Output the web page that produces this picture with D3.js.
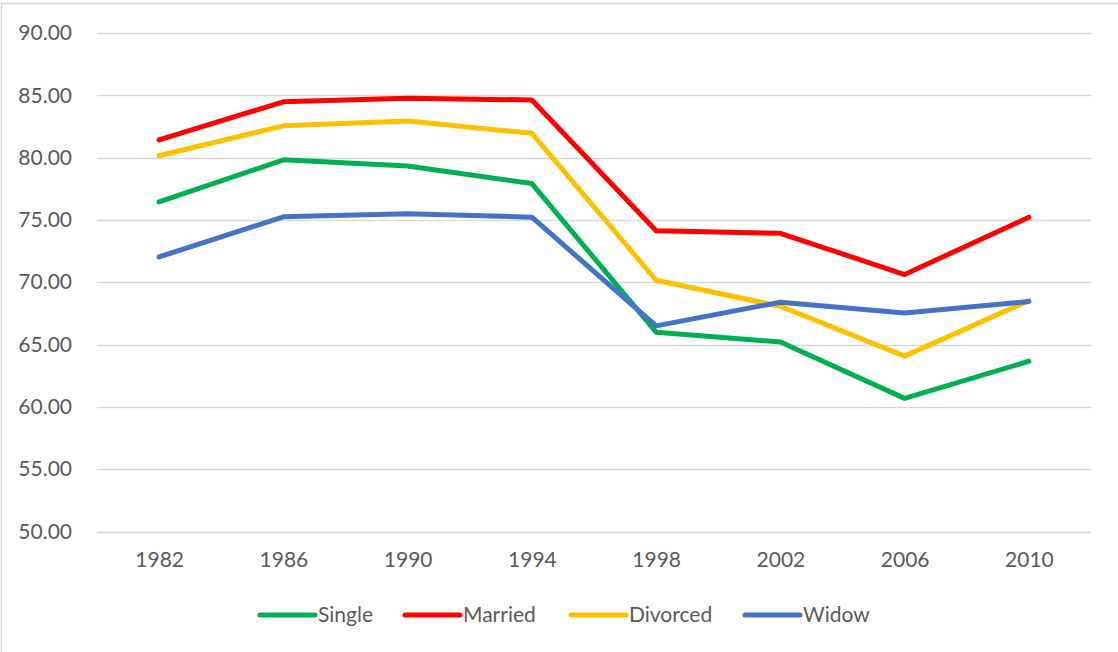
<!DOCTYPE html>
<html>
<head>
<meta charset="utf-8">
<script src="https://cdn.jsdelivr.net/npm/d3@7"></script>
<style>
  body { margin: 0; background: #fff; }
  text { font-family: Lato, "Open Sans", sans-serif; fill: #595959; }
</style>
</head>
<body>
<div id="chart"></div>
<script>
// data
var years = ["1982", "1986", "1990", "1994", "1998", "2002", "2006", "2010"];
var yTicks = [50, 55, 60, 65, 70, 75, 80, 85, 90];
var single   = [76.45, 79.82, 79.33, 77.92, 65.99, 65.2, 60.68, 63.66];
var married  = [81.42, 84.48, 84.76, 84.63, 74.13, 73.93, 70.62, 75.22];
var divorced = [80.15, 82.55, 82.94, 81.95, 70.16, 68.07, 64.07, 68.52];
var widow    = [72.03, 75.25, 75.5, 75.22, 66.5, 68.4, 67.53, 68.46];

var seriesNames = ["Single", "Married", "Divorced", "Widow"];
var seriesValues = [single, married, divorced, widow];
var colors = ["#00B050", "#FF0000", "#FFC000", "#4472C4"];

var svgWidth = 1118;
var svgHeight = 652;

// plot area
var margin = { top: 33, right: 27, bottom: 120.5, left: 97 };
var chartWidth = svgWidth - margin.left - margin.right;
var chartHeight = svgHeight - margin.top - margin.bottom;

var svg = d3.select("#chart")
  .append("svg")
  .attr("width", svgWidth)
  .attr("height", svgHeight);

// outer chart border
svg.append("rect")
  .attr("x", 1.5)
  .attr("y", 3.5)
  .attr("width", svgWidth + 10)
  .attr("height", svgHeight + 10)
  .attr("fill", "none")
  .attr("stroke", "#D9D9D9")
  .attr("stroke-width", 1.5);

var chartGroup = svg.append("g")
  .attr("transform", "translate(" + margin.left + "," + margin.top + ")");

var xScale = d3.scalePoint()
  .domain(years)
  .range([0, chartWidth])
  .padding(0.5);

var yScale = d3.scaleLinear()
  .domain([50, 90])
  .range([chartHeight, 0]);

// gridlines
chartGroup.append("g")
  .selectAll("line")
  .data(yTicks)
  .enter()
  .append("line")
  .attr("x1", 0)
  .attr("x2", chartWidth)
  .attr("y1", function(d) { return Math.round(yScale(d)) + 0.5; })
  .attr("y2", function(d) { return Math.round(yScale(d)) + 0.5; })
  .attr("stroke", "#D9D9D9")
  .attr("stroke-width", 1.3);

// y axis labels
var leftAxis = d3.axisLeft(yScale)
  .tickValues(yTicks)
  .tickFormat(d3.format(".2f"))
  .tickSize(0)
  .tickPadding(25);

var yAxisG = chartGroup.append("g").call(leftAxis);
yAxisG.select(".domain").remove();
yAxisG.selectAll("text")
  .attr("font-size", "21px")
  .attr("font-family", "Lato, 'Open Sans', sans-serif")
  .attr("fill", "#595959");

// x axis labels
var bottomAxis = d3.axisBottom(xScale)
  .tickSize(0)
  .tickPadding(21);

var xAxisG = chartGroup.append("g")
  .attr("transform", "translate(0," + chartHeight + ")")
  .call(bottomAxis);
xAxisG.select(".domain").remove();
xAxisG.selectAll("text")
  .attr("font-size", "21px")
  .attr("font-family", "Lato, 'Open Sans', sans-serif")
  .attr("fill", "#595959");

// lines
var line = d3.line()
  .x(function(d, i) { return xScale(years[i]); })
  .y(function(d) { return yScale(d); });

seriesValues.forEach(function(vals, k) {
  chartGroup.append("path")
    .datum(vals)
    .attr("d", line)
    .attr("fill", "none")
    .attr("stroke", colors[k])
    .attr("stroke-width", 5)
    .attr("stroke-linejoin", "round")
    .attr("stroke-linecap", "round");
});

// legend
var legendX = [260, 405, 571, 745];
var legendY = 615;
var legend = svg.append("g");
seriesNames.forEach(function(name, k) {
  legend.append("line")
    .attr("x1", legendX[k])
    .attr("x2", legendX[k] + 55)
    .attr("y1", legendY)
    .attr("y2", legendY)
    .attr("stroke", colors[k])
    .attr("stroke-width", 5)
    .attr("stroke-linecap", "round");
  legend.append("text")
    .attr("x", legendX[k] + 58)
    .attr("y", legendY)
    .attr("dy", "0.35em")
    .attr("font-size", "21px")
    .text(name);
});
</script>
</body>
</html>
